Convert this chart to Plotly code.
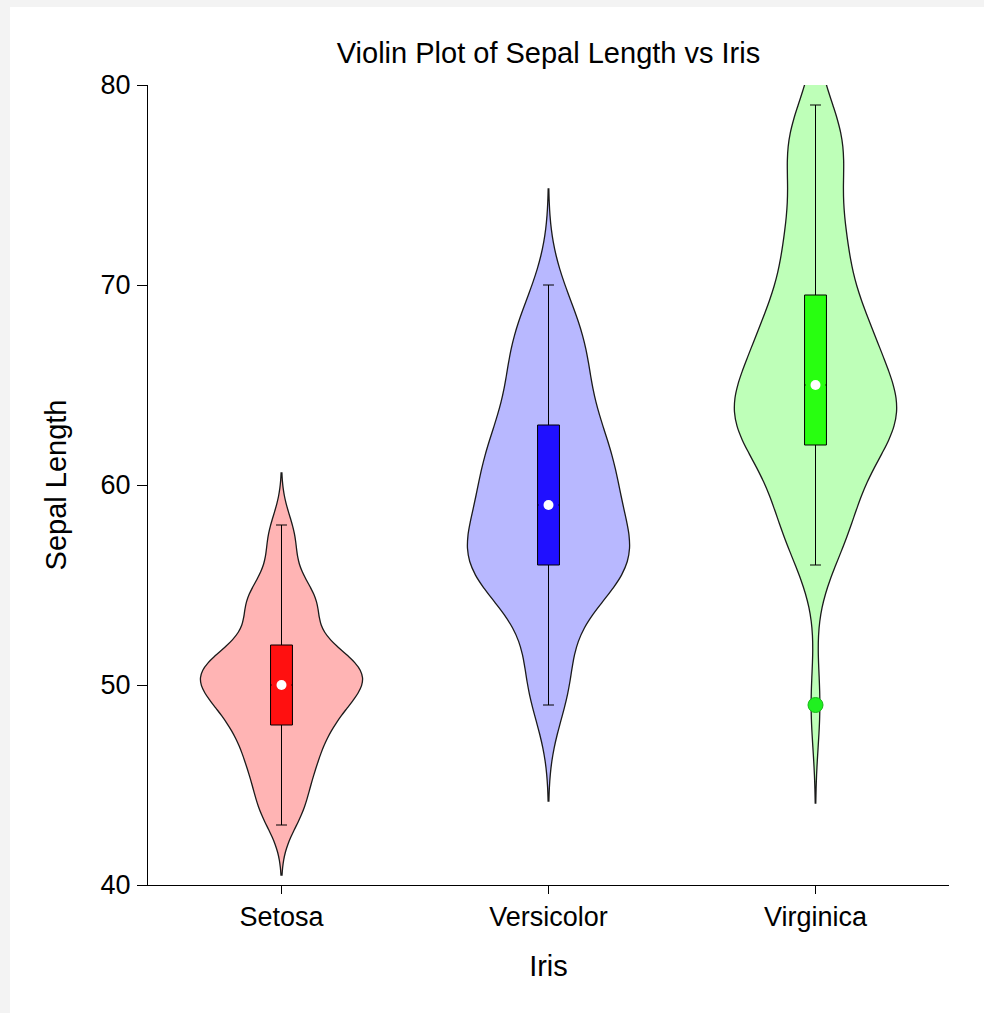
import numpy as np
import plotly.graph_objects as go

# ---- data (sepal length, mm) ----
species = ["Setosa", "Versicolor", "Virginica"]
setosa = [51, 49, 47, 46, 50, 54, 46, 50, 44, 49, 54, 48, 48, 43, 58, 57, 54, 51, 57, 51,
          54, 51, 46, 51, 48, 50, 50, 52, 52, 47, 48, 54, 52, 55, 49, 50, 55, 49, 44, 51,
          50, 45, 44, 50, 51, 48, 51, 46, 53, 50]
versicolor = [70, 64, 69, 55, 65, 57, 63, 49, 66, 52, 50, 59, 60, 61, 56, 67, 56, 58, 62, 56,
              59, 61, 63, 61, 64, 66, 68, 67, 60, 57, 55, 55, 58, 60, 54, 60, 67, 63, 56, 55,
              55, 61, 58, 50, 56, 57, 57, 62, 51, 57]
virginica = [63, 58, 71, 63, 65, 76, 49, 73, 67, 72, 65, 64, 68, 57, 58, 64, 65, 77, 77, 60,
             69, 56, 77, 63, 67, 72, 62, 61, 64, 72, 74, 79, 64, 63, 61, 77, 63, 64, 60, 69,
             67, 69, 58, 68, 67, 67, 63, 65, 62, 59]
groups = [setosa, versicolor, virginica]

y_ticks = [40, 50, 60, 70, 80]

# ---- density / style settings ----
bandwidths = [1.15, 2.0, 2.1]
spans = [[40.5, 60.6], [44.2, 74.8], [44.1, 83.9]]
violin_fill = ["#FFB4B4", "#B8B8FF", "#BEFFB8"]
box_fill = ["#FF1010", "#2010FF", "#28FF10"]
outlier_color = "#20F020"


def box_stats(vals):
    v = np.asarray(vals, dtype=float)
    q1, med, q3 = np.percentile(v, [25, 50, 75], method="weibull")
    iqr = q3 - q1
    inside = v[(v >= q1 - 1.5 * iqr) & (v <= q3 + 1.5 * iqr)]
    outs = v[(v < q1 - 1.5 * iqr) | (v > q3 + 1.5 * iqr)]
    return float(q1), float(med), float(q3), float(inside.min()), float(inside.max()), outs.tolist()


stats = [box_stats(v) for v in groups]

fig = go.Figure()

for name, vals, bw, sp, vf in zip(species, groups, bandwidths, spans, violin_fill):
    fig.add_trace(go.Violin(
        x=[name] * len(vals), y=vals, name=name,
        bandwidth=bw, spanmode="manual", span=sp,
        scalemode="width", width=0.607,
        fillcolor=vf, line=dict(color="#1a1a1a", width=1.3),
        points=False, box_visible=False, meanline_visible=False,
        hoverinfo="skip",
    ))

for name, st, bf in zip(species, stats, box_fill):
    q1, med, q3, lo, hi, outs = st
    fig.add_trace(go.Box(
        x=[name], q1=[q1], median=[med], q3=[q3], lowerfence=[lo], upperfence=[hi],
        name=name, boxpoints=False,
        width=0.082, whiskerwidth=0.5,
        fillcolor=bf, line=dict(color="black", width=1),
        hoverinfo="skip",
    ))

# hide the median line of each box (cover with box fill colour)
for name, st, bf in zip(species, stats, box_fill):
    fig.add_trace(go.Scatter(
        x=[name], y=[st[1]], mode="markers",
        marker=dict(symbol="line-ew", size=14, color=bf, line=dict(color=bf, width=2)),
        hoverinfo="skip",
    ))

# outliers
for name, st in zip(species, stats):
    outs = st[5]
    if outs:
        fig.add_trace(go.Scatter(
            x=[name] * len(outs), y=outs, mode="markers",
            marker=dict(symbol="circle", size=15, color=outlier_color,
                        line=dict(color="#14B814", width=1)),
            hoverinfo="skip",
        ))

# white median dots
fig.add_trace(go.Scatter(
    x=species, y=[st[1] for st in stats], mode="markers",
    marker=dict(symbol="circle", size=10, color="white", line=dict(width=0)),
    hoverinfo="skip",
))

fig.update_layout(
    width=974, height=1006,
    margin=dict(l=138, r=35, t=78, b=128),
    paper_bgcolor="white", plot_bgcolor="white",
    showlegend=False,
    violinmode="overlay", boxmode="overlay",
    font=dict(family="Arial, Liberation Sans, sans-serif", color="black", size=27),
    title=dict(text="Violin Plot of Sepal Length vs Iris", x=0.5, xref="paper",
               y=1 - 46 / 1006, yref="container", yanchor="middle",
               font=dict(size=29, color="black")),
    xaxis=dict(
        range=[-0.5, 2.5], type="category",
        categoryorder="array", categoryarray=species,
        showline=True, linecolor="black", linewidth=1,
        ticks="outside", ticklen=8, tickcolor="black", tickwidth=1,
        showgrid=False, zeroline=False,
        tickfont=dict(size=27),
        title=dict(text="Iris", font=dict(size=29), standoff=24),
    ),
    yaxis=dict(
        range=[40, 80], tickvals=y_ticks, ticktext=[str(t) for t in y_ticks],
        showline=True, linecolor="black", linewidth=1,
        ticks="outside", ticklen=10, tickcolor="black", tickwidth=1,
        showgrid=False, zeroline=False,
        tickfont=dict(size=27), ticklabelstandoff=1,
        title=dict(text="Sepal Length", font=dict(size=29), standoff=25),
    ),
)

fig.write_html(
    "out.html",
    config={"displayModeBar": False},
    post_script="document.body.style.margin='7px 0 0 10px';"
                "document.body.style.background='#f3f3f3';"
                "document.body.style.overflow='hidden';",
)
